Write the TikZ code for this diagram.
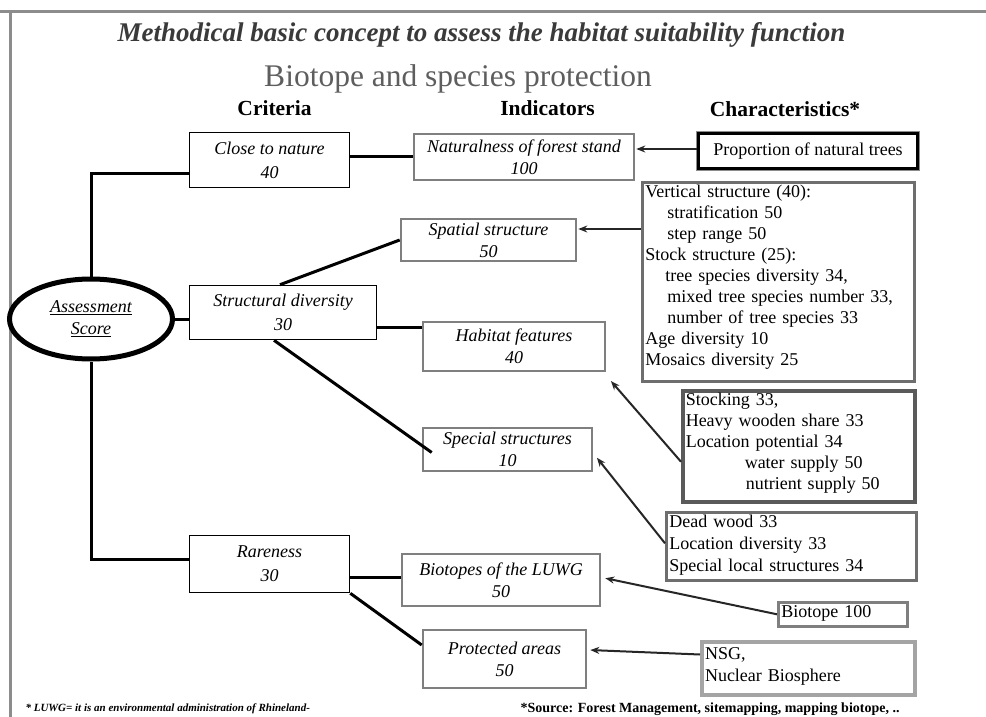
\documentclass[tikz,border=0pt]{standalone}
\usepackage{fontspec}
\setmainfont{Liberation Serif}
\usepackage{tikz}
\usetikzlibrary{arrows.meta,positioning,shapes.geometric}
\definecolor{framegray}{HTML}{8C8C8C}
\definecolor{titlegray}{HTML}{3A3A3A}
\definecolor{subgray}{HTML}{5E5E5E}
\definecolor{indframe}{HTML}{7F7F7F}
\definecolor{charframe}{HTML}{6E6E6E}
\definecolor{darkframe}{HTML}{5A5A5A}
\definecolor{lightframe}{HTML}{A4A4A4}

\begin{document}
\begin{tikzpicture}[x=1pt,y=-1pt,
  >={Stealth[length=9pt,width=7pt]},
  crit/.style={draw=black,line width=1.6pt,fill=white,inner sep=2pt,
               font=\fontsize{18}{24}\selectfont\itshape,align=center},
  ind/.style={draw=indframe,line width=2.6pt,fill=white,inner sep=2pt,
              font=\fontsize{18}{22}\selectfont\itshape,align=center},
  chr/.style={draw=charframe,line width=2.6pt,fill=white,inner sep=3pt,
              anchor=north west,font=\fontsize{18}{21}\selectfont,
              align=left,text height=12pt},
  hd/.style={font=\fontsize{21.5}{25}\selectfont\bfseries,anchor=base},
  l/.style={black,line width=3pt},
  a/.style={black!85,line width=2pt,->,shorten >=1pt}]
\useasboundingbox (0,0) rectangle (986,717);
% slide frame
\draw[framegray,line width=3pt] (0,12) -- (986,12);
\draw[framegray,line width=3pt] (10,12) -- (10,717);
% headings
\node[font=\fontsize{27}{32}\selectfont\bfseries\itshape,text=titlegray,anchor=base]
  (title) at (481.5,42) {Methodical basic concept to assess the habitat suitability function};
\node[font=\fontsize{31.5}{36}\selectfont,text=subgray,anchor=base]
  (sub) at (458,87) {Biotope and species protection};
\node[hd] (hcrit) at (274.5,115) {Criteria};
\node[hd] (hind) at (547.5,115) {Indicators};
\node[hd] (hchar) at (785,117) {Characteristics*};
% criteria
\node[ellipse,draw=black,line width=5pt,fill=white,minimum width=163pt,
      minimum height=80pt,inner sep=0pt,align=center,
      font=\fontsize{18}{22}\selectfont\itshape] (score) at (91,319)
      {\underline{Assessment}\\\underline{Score}};
\node[crit,minimum width=160pt,minimum height=55pt] (close) at (269.5,160) {Close to nature\\40};
\node[crit,minimum width=187pt,minimum height=54pt] (struct) at (283,312.5) {Structural diversity\\30};
\node[crit,minimum width=160pt,minimum height=57pt] (rare) at (269.5,564) {Rareness\\30};
% indicators
\node[ind,minimum width=220pt,minimum height=46pt] (natur) at (524,157) {Naturalness of forest stand\\100};
\node[ind,minimum width=175pt,minimum height=42pt] (spatial) at (488.5,240) {Spatial structure\\50};
\node[ind,minimum width=182pt,minimum height=49pt] (habitat) at (514,346.5) {Habitat features\\40};
\node[ind,minimum width=169pt,minimum height=43pt] (special) at (507.5,449.5) {Special structures\\10};
\node[ind,minimum width=198pt,minimum height=52pt] (biotopes) at (501,580) {Biotopes of the LUWG\\50};
\node[ind,minimum width=163pt,minimum height=58pt] (protected) at (504.5,659) {Protected areas\\50};
% characteristics
\node[chr,draw=black,anchor=center,align=center,minimum width=219pt,minimum height=35pt,
      preaction={draw=framegray,line width=5pt}] (prop) at (808,151) {Proportion of natural trees};
\node[chr,text width=266pt,text depth=181pt] (vert) at (641,181)
  {Vertical structure (40):\\
   \hspace*{22pt}stratification 50\\
   \hspace*{22pt}step range 50\\
   Stock structure (25):\\
   \hspace*{20pt}tree species diversity 34,\\
   \hspace*{22pt}mixed tree species number 33,\\
   \hspace*{22pt}number of tree species 33\\
   Age diversity 10\\
   Mosaics diversity 25};
\node[chr,draw=darkframe,line width=3.5pt,text width=226pt,text depth=93pt] (stock) at (681,389)
  {Stocking 33,\\
   Heavy wooden share 33\\
   Location potential 34\\
   \hspace*{59pt}water supply 50\\
   \hspace*{60pt}nutrient supply 50};
\node[chr,font=\fontsize{18}{22}\selectfont,text width=244pt,text depth=50pt] (dead) at (665,511)
  {Dead wood 33\\
   Location diversity 33\\
   Special local structures 34};
\node[chr,draw=indframe,text width=123pt,text depth=6pt] (bio) at (777,601) {Biotope 100};
\node[chr,draw=lightframe,line width=4pt,font=\fontsize{18}{22}\selectfont,
      text width=207pt,text height=14pt,text depth=33pt] (nsg) at (700,640)
  {NSG,\\Nuclear Biosphere};
% tree lines
\draw[l] (score.north) |- ([yshift=-13pt]close.west);
\draw[l] (score.south) |- ([yshift=5pt]rare.west);
\draw[l] (score.east) -- (score.east -| struct.west);
\draw[l] ([yshift=4pt]close.east) -- ([yshift=4pt]close.east -| natur.west);
\draw[l] ([xshift=-3pt]struct.north) -- (spatial.west);
\draw[l] ([yshift=-15pt]struct.east) -- ([yshift=-15pt]struct.east -| habitat.west);
\draw[l] ([xshift=-9pt]struct.south) -- ([shift={(10pt,-3pt)}]special.west);
\draw[l] ([yshift=-13pt]rare.east) -- ([yshift=-13pt]rare.east -| biotopes.west);
\draw[l] (rare.south east) -- ([yshift=14pt]protected.west);
% arrows from characteristics
\draw[a] ([yshift=2pt]prop.west) -- ([yshift=2pt]prop.west -| natur.east);
\draw[a] ([yshift=11pt]spatial.east -| vert.west) -- ([yshift=11pt]spatial.east);
\draw[a] ([yshift=-15.5pt]stock.west) -- ([shift={(4pt,-8pt)}]habitat.south east);
\draw[a] ([yshift=3pt]dead.west) -- ([shift={(3pt,-7.5pt)}]special.east);
\draw[a] (bio.west) -- ([shift={(3pt,2pt)}]biotopes.east);
\draw[a] ([yshift=14pt]nsg.west) -- ([shift={(2pt,9pt)}]protected.east);
% footnotes
\node[font=\fontsize{11}{13}\selectfont\bfseries\itshape,anchor=base west] (fnl) at (22,711)
  {* LUWG= it is an environmental administration of Rhineland-};
\node[font=\fontsize{14}{16}\selectfont\bfseries,anchor=base west] (fnr) at (517,712)
  {*Source: Forest Management, sitemapping, mapping biotope, ..};
\end{tikzpicture}
\end{document}
